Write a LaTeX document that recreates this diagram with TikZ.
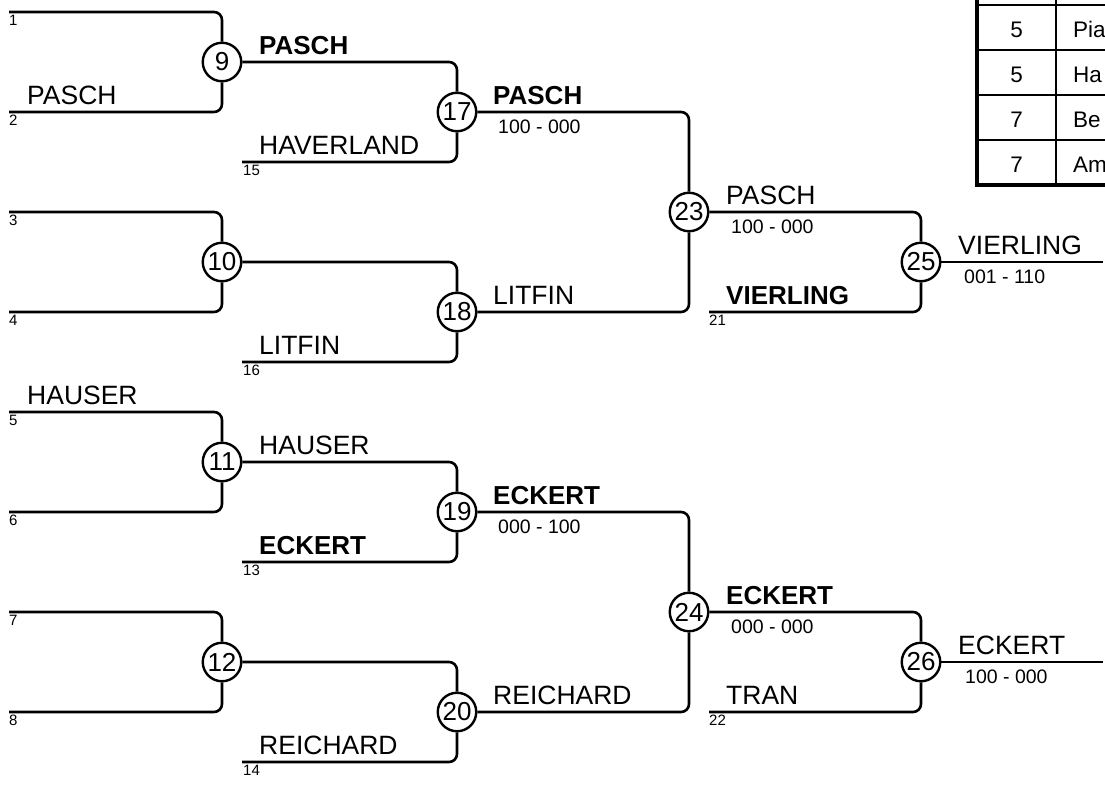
\documentclass[tikz,border=0pt]{standalone}
\usepackage{fontspec}
\setmainfont{Liberation Sans}
\begin{document}
\begin{tikzpicture}[x=1pt,y=-1pt,
  bline/.style={line width=2.6pt, rounded corners=8pt},
  circ/.style={draw, circle, line width=2.4pt, minimum size=38.5pt, inner sep=0pt, fill=white, font=\fontsize{26}{30}\selectfont},
  pname/.style={anchor=base west, inner sep=0pt, font=\fontsize{26.5}{31}\selectfont},
  bname/.style={anchor=base west, inner sep=0pt, font=\fontsize{26}{31}\selectfont\bfseries},
  score/.style={anchor=base west, inner sep=0pt, font=\fontsize{19.5}{23}\selectfont},
  seed/.style={anchor=base west, inner sep=0pt, font=\fontsize{15}{18}\selectfont},
  tline/.style={line width=2pt},
  tthick/.style={line width=4.5pt},
  ttext/.style={anchor=base, inner sep=0pt, font=\fontsize{22.5}{26}\selectfont},
  ttextl/.style={anchor=base west, inner sep=0pt, font=\fontsize{22.5}{26}\selectfont}
]
\useasboundingbox (0,0) rectangle (1105,787);
\clip (0,0) rectangle (1105,787);

% ---------- seed line starts ----------
\coordinate (s1) at (9,12);
\coordinate (s2) at (9,112);
\coordinate (s3) at (9,212);
\coordinate (s4) at (9,312);
\coordinate (s5) at (9,412);
\coordinate (s6) at (9,512);
\coordinate (s7) at (9,612);
\coordinate (s8) at (9,712);
\coordinate (s15) at (242,162);
\coordinate (s16) at (242,362);
\coordinate (s13) at (242,562);
\coordinate (s14) at (242,762);
\coordinate (s21) at (709,312);
\coordinate (s22) at (709,712);
\coordinate (e25) at (1103,262);
\coordinate (e26) at (1103,662);

% ---------- match circles ----------
\node[circ] (m9) at (222,62) {9};
\node[circ] (m10) at (222,262) {10};
\node[circ] (m11) at (222,462) {11};
\node[circ] (m12) at (222,662) {12};
\node[circ] (m17) at (457,112) {17};
\node[circ] (m18) at (457,312) {18};
\node[circ] (m19) at (457,512) {19};
\node[circ] (m20) at (457,712) {20};
\node[circ] (m23) at (689,212) {23};
\node[circ] (m24) at (689,612) {24};
\node[circ] (m25) at (921,262) {25};
\node[circ] (m26) at (921,662) {26};

% ---------- connectors ----------
\draw[bline] (s1) -| (m9);
\draw[bline] (s2) -| (m9);
\draw[bline] (s3) -| (m10);
\draw[bline] (s4) -| (m10);
\draw[bline] (s5) -| (m11);
\draw[bline] (s6) -| (m11);
\draw[bline] (s7) -| (m12);
\draw[bline] (s8) -| (m12);
\draw[bline] (m9) -| (m17);
\draw[bline] (s15) -| (m17);
\draw[bline] (m10) -| (m18);
\draw[bline] (s16) -| (m18);
\draw[bline] (m11) -| (m19);
\draw[bline] (s13) -| (m19);
\draw[bline] (m12) -| (m20);
\draw[bline] (s14) -| (m20);
\draw[bline] (m17) -| (m23);
\draw[bline] (m18) -| (m23);
\draw[bline] (m19) -| (m24);
\draw[bline] (m20) -| (m24);
\draw[bline] (m23) -| (m25);
\draw[bline] (s21) -| (m25);
\draw[bline] (m24) -| (m26);
\draw[bline] (s22) -| (m26);
\draw[bline] (m25) -- (e25);
\draw[bline] (m26) -- (e26);

% ---------- seed numbers ----------
\node[seed] (n1) at (9,25.5) {1};
\node[seed] (n2) at (9,125.5) {2};
\node[seed] (n3) at (9,225.5) {3};
\node[seed] (n4) at (9,325.5) {4};
\node[seed] (n5) at (9,425.5) {5};
\node[seed] (n6) at (9,525.5) {6};
\node[seed] (n7) at (9,625.5) {7};
\node[seed] (n8) at (9,725.5) {8};
\node[seed] (n15) at (243,175.5) {15};
\node[seed] (n16) at (243,375.5) {16};
\node[seed] (n13) at (243,575.5) {13};
\node[seed] (n14) at (243,775.5) {14};
\node[seed] (n21) at (709,325.5) {21};
\node[seed] (n22) at (709,725.5) {22};

% ---------- names ----------
\node[pname] (t2) at (27,104) {PASCH};
\node[pname] (t5) at (27,404) {HAUSER};
\node[pname] (t15) at (259,154) {HAVERLAND};
\node[pname] (t16) at (259,354) {LITFIN};
\node[bname] (t13) at (259,554) {ECKERT};
\node[pname] (t14) at (259,754) {REICHARD};
\node[bname] (w9) at (259,54) {PASCH};
\node[pname] (w11) at (259,454) {HAUSER};
\node[bname] (w17) at (493,104) {PASCH};
\node[score] (r17) at (498,133) {100 - 000};
\node[pname] (w18) at (493,304) {LITFIN};
\node[bname] (w19) at (493,504) {ECKERT};
\node[score] (r19) at (498,533) {000 - 100};
\node[pname] (w20) at (493,704) {REICHARD};
\node[pname] (w23) at (726,204) {PASCH};
\node[score] (r23) at (731,233) {100 - 000};
\node[bname] (t21) at (726,304) {VIERLING};
\node[bname] (w24) at (726,604) {ECKERT};
\node[score] (r24) at (731,633) {000 - 000};
\node[pname] (t22) at (726,704) {TRAN};
\node[pname] (w25) at (958,254) {VIERLING};
\node[score] (r25) at (964,283) {001 - 110};
\node[pname] (w26) at (958,654) {ECKERT};
\node[score] (r26) at (965,683) {100 - 000};

% ---------- table (cut by the picture edge) ----------
\fill[white] (977,-10) rectangle (1110,185);
\draw[tline] (977,5) -- (1110,5);
\draw[tline] (977,50) -- (1110,50);
\draw[tline] (977,95) -- (1110,95);
\draw[tline] (977,140) -- (1110,140);
\draw[tline] (1056,-10) -- (1056,185);
\draw[tthick] (977,-10) -- (977,185) -- (1110,185);
\node[ttext] (a1) at (1016.5,37) {5};
\node[ttext] (a2) at (1016.5,82) {5};
\node[ttext] (a3) at (1016.5,127) {7};
\node[ttext] (a4) at (1016.5,172) {7};
\node[ttextl] (b1) at (1073,37) {Pia};
\node[ttextl] (b2) at (1073,82) {Ha};
\node[ttextl] (b3) at (1073,127) {Be};
\node[ttextl] (b4) at (1073,172) {Am};
\end{tikzpicture}
\end{document}
